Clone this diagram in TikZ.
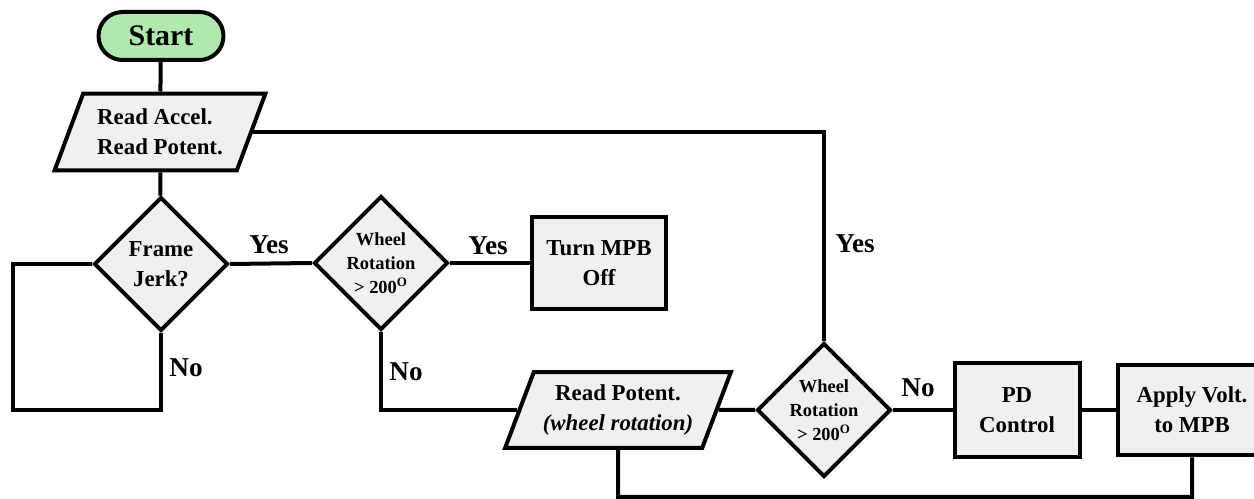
\documentclass[tikz,border=0pt]{standalone}
\usepackage{fontspec}
\setmainfont{Liberation Serif}
\usetikzlibrary{shapes,arrows}
\usetikzlibrary{shapes.geometric}

\definecolor{boxgray}{RGB}{240,240,240}
\definecolor{startgreen}{RGB}{176,232,176}

\begin{document}
\begin{tikzpicture}[x=0.02cm,y=-0.02cm,line width=0.08cm]
\tikzstyle{txt} = [font=\fontsize{13}{17}\selectfont\bfseries]
\tikzstyle{lbl} = [font=\fontsize{15.5}{18}\selectfont\bfseries,inner sep=0pt]
\tikzstyle{procbox} = [txt,draw=black,fill=boxgray,rectangle,align=center,inner sep=2pt]
\tikzstyle{iobox} = [txt,draw=black,fill=boxgray,trapezium,trapezium left angle=65,trapezium right angle=115,trapezium stretches=true,inner sep=2pt]
\tikzstyle{decbox} = [txt,draw=black,fill=boxgray,diamond,aspect=1,align=center,inner sep=0pt,minimum width=2.68cm,minimum height=2.68cm]
\tikzstyle{smalltxt} = [font=\fontsize{10.5}{13.5}\selectfont\bfseries]
\useasboundingbox (0,0) rectangle (1254,499);

% blocks
\node[procbox,fill=startgreen,rounded corners=0.48cm,minimum width=2.5cm,minimum height=0.96cm,font=\fontsize{17}{20}\selectfont\bfseries] (start) at (161,36) {Start};
\node[iobox,align=left,minimum width=4.22cm,minimum height=1.54cm] (read1) at (160,132) {Read Accel.\\Read Potent.};
\node[decbox] (jerk) at (161,264) {Frame\\Jerk?};
\node[decbox,smalltxt] (wheelA) at (381,263) {Wheel\\Rotation\\> 200\textsuperscript{O}};
\node[procbox,minimum width=2.68cm,minimum height=1.84cm] (off) at (599,263) {Turn MPB\\Off};
\node[iobox,align=center,minimum width=4.52cm,minimum height=1.52cm] (read2) at (618,410) {Read Potent.\\\textit{(wheel rotation)}};
\node[decbox,smalltxt] (wheelB) at (824,410) {Wheel\\Rotation\\> 200\textsuperscript{O}};
\node[procbox,minimum width=2.5cm,minimum height=1.88cm] (pd) at (1017,410) {PD\\Control};
\node[procbox,minimum width=2.96cm,minimum height=1.82cm] (apply) at (1192,410) {Apply Volt.\\to MPB};

% helper points
\coordinate (jl) at (13,410);
\coordinate (fb) at (618,497);

% connectors
\draw (start) -- (read1);
\draw (read1) -- (jerk);
\draw (read1.east) -| (wheelB.north);
\draw (jerk.east) -- (wheelA.west);
\draw (wheelA.east) -- (off.west);
\draw (jerk.west) -| (jl) -| (jerk.south);
\draw (wheelA.south) |- (read2.west);
\draw (read2.east) -- (wheelB.west);
\draw (wheelB.east) -- (pd.west);
\draw (pd.east) -- (apply.west);
\draw (apply.south) |- (fb) -- (read2.south);

% labels
\node[lbl] (yesA) at (269,245) {Yes};
\node[lbl] (yesB) at (488,246) {Yes};
\node[lbl] (yesC) at (855,244) {Yes};
\node[lbl] (noA) at (186,368) {No};
\node[lbl] (noB) at (406,372) {No};
\node[lbl] (noC) at (918,388) {No};
\end{tikzpicture}
\end{document}
